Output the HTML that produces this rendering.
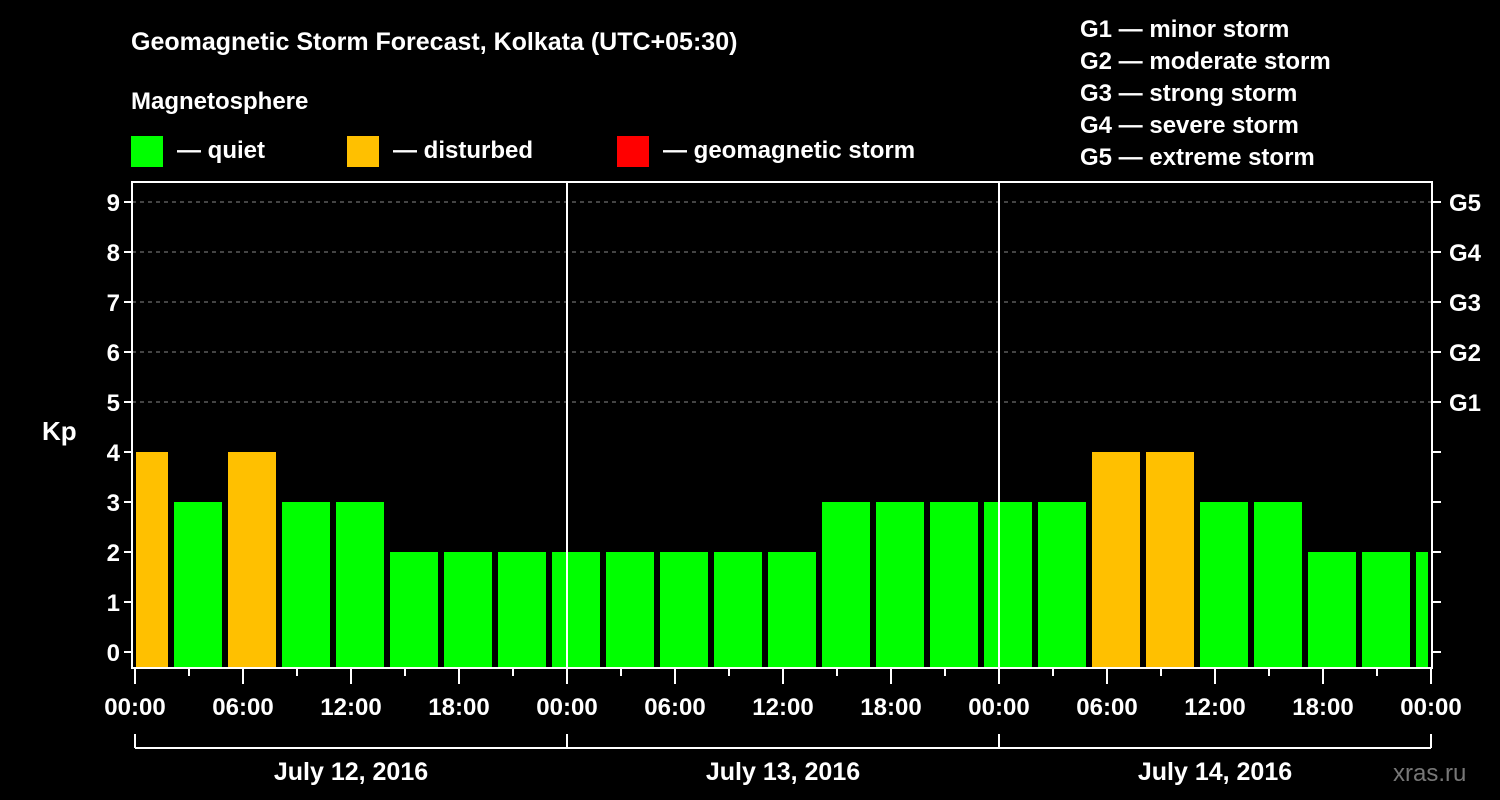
<!DOCTYPE html>
<html><head><meta charset="utf-8"><style>
body{margin:0;background:#000;}
svg{display:block;font-family:"Liberation Sans",Arial,sans-serif;font-weight:bold;}
</style></head><body>
<svg width="1500" height="800" viewBox="0 0 1500 800" id="chart">
<rect width="1500" height="800" fill="#000"/>
<text x="131" y="50" fill="#fff" font-size="25">Geomagnetic Storm Forecast, Kolkata (UTC+05:30)</text>
<text x="131" y="109" fill="#fff" font-size="24">Magnetosphere</text>
<g><rect x="131" y="136" width="32" height="31" fill="#00ff00"/><text x="177" y="158" fill="#fff" font-size="24">— quiet</text></g>
<g><rect x="347" y="136" width="32" height="31" fill="#ffc000"/><text x="393" y="158" fill="#fff" font-size="24">— disturbed</text></g>
<g><rect x="617" y="136" width="32" height="31" fill="#ff0000"/><text x="663" y="158" fill="#fff" font-size="24">— geomagnetic storm</text></g>
<g fill="#fff" font-size="24">
<text x="1080" y="37">G1 — minor storm</text>
<text x="1080" y="69">G2 — moderate storm</text>
<text x="1080" y="101">G3 — strong storm</text>
<text x="1080" y="133">G4 — severe storm</text>
<text x="1080" y="165">G5 — extreme storm</text>
</g>
<text x="42" y="440" fill="#fff" font-size="26">Kp</text>
<text x="1393" y="781" fill="#777" font-size="24" font-weight="normal">xras.ru</text>
<g id="plot"></g>
</svg>
<script>
const kpValues=[4,3,4,3,3,2,2,2,2,2,2,2,2,3,3,3,3,3,4,4,3,3,2,2,2];
const yTicks=[0,1,2,3,4,5,6,7,8,9];
const gLabels=["G1","G2","G3","G4","G5"];
const hourLabels=["00:00","06:00","12:00","18:00"];
const dayLabels=["July 12, 2016","July 13, 2016","July 14, 2016"];
const NS="http://www.w3.org/2000/svg";
const g=document.getElementById('plot');
const X0=135,PX_H=18,L=132,R=1432,T=182,B=668;
const x=h=>X0+h*PX_H;
const y=v=>652-v*50;
function mk(t,a,p){const e=document.createElementNS(NS,t);for(const k in a)e.setAttribute(k,a[k]);(p||g).appendChild(e);return e;}
// grid
for(let v=5;v<=9;v++){const e=mk('line',{x1:L,x2:R,y1:y(v),y2:y(v),stroke:'#888','stroke-dasharray':'4,4','stroke-width':1});

}
// bars
kpValues.forEach((v,k)=>{let s=x(-1+3*k)+3,e2=x(2+3*k)-3;s=Math.max(s,136);e2=Math.min(e2,1428);
const r=mk('rect',{x:s,y:y(v),width:e2-s,height:B-y(v),fill:v>=5?'#ff0000':(v>=4?'#ffc000':'#00ff00')});

});
// day separators
[24,48].forEach(h=>{const e=mk('line',{x1:x(h),x2:x(h),y1:T,y2:B,stroke:'#fff','stroke-width':2});

});
// frame
const f=mk('rect',{x:L,y:T,width:R-L,height:B-T,fill:'none',stroke:'#fff','stroke-width':2});


// y ticks
yTicks.forEach(v=>{mk('line',{x1:L-8,x2:L,y1:y(v),y2:y(v),stroke:'#fff','stroke-width':2});
mk('line',{x1:R,x2:R+9,y1:y(v),y2:y(v),stroke:'#fff','stroke-width':2});
const t=mk('text',{x:L-12,y:y(v)+9,fill:'#fff','font-size':24,'text-anchor':'end'});t.textContent=v;

});
gLabels.forEach((s,i)=>{const t=mk('text',{x:1449,y:y(5+i)+9,fill:'#fff','font-size':24});t.textContent=s;

});
// x ticks
for(let h=0;h<=72;h+=3){const major=h%6===0;mk('line',{x1:x(h),x2:x(h),y1:B,y2:B+(major?16:8),stroke:'#fff','stroke-width':2});
if(major){const t=mk('text',{x:x(h),y:715,fill:'#fff','font-size':24,'text-anchor':'middle'});t.textContent=hourLabels[(h/6)%4];

}}
// date bracket
mk('line',{x1:x(0),x2:x(72),y1:748,y2:748,stroke:'#fff','stroke-width':2});
[0,24,48,72].forEach(h=>mk('line',{x1:x(h),x2:x(h),y1:734,y2:748,stroke:'#fff','stroke-width':2}));
dayLabels.forEach((s,i)=>{const t=mk('text',{x:x(24*i+12),y:780,fill:'#fff','font-size':25,'text-anchor':'middle'});t.textContent=s;

});
</script>
</body></html>
